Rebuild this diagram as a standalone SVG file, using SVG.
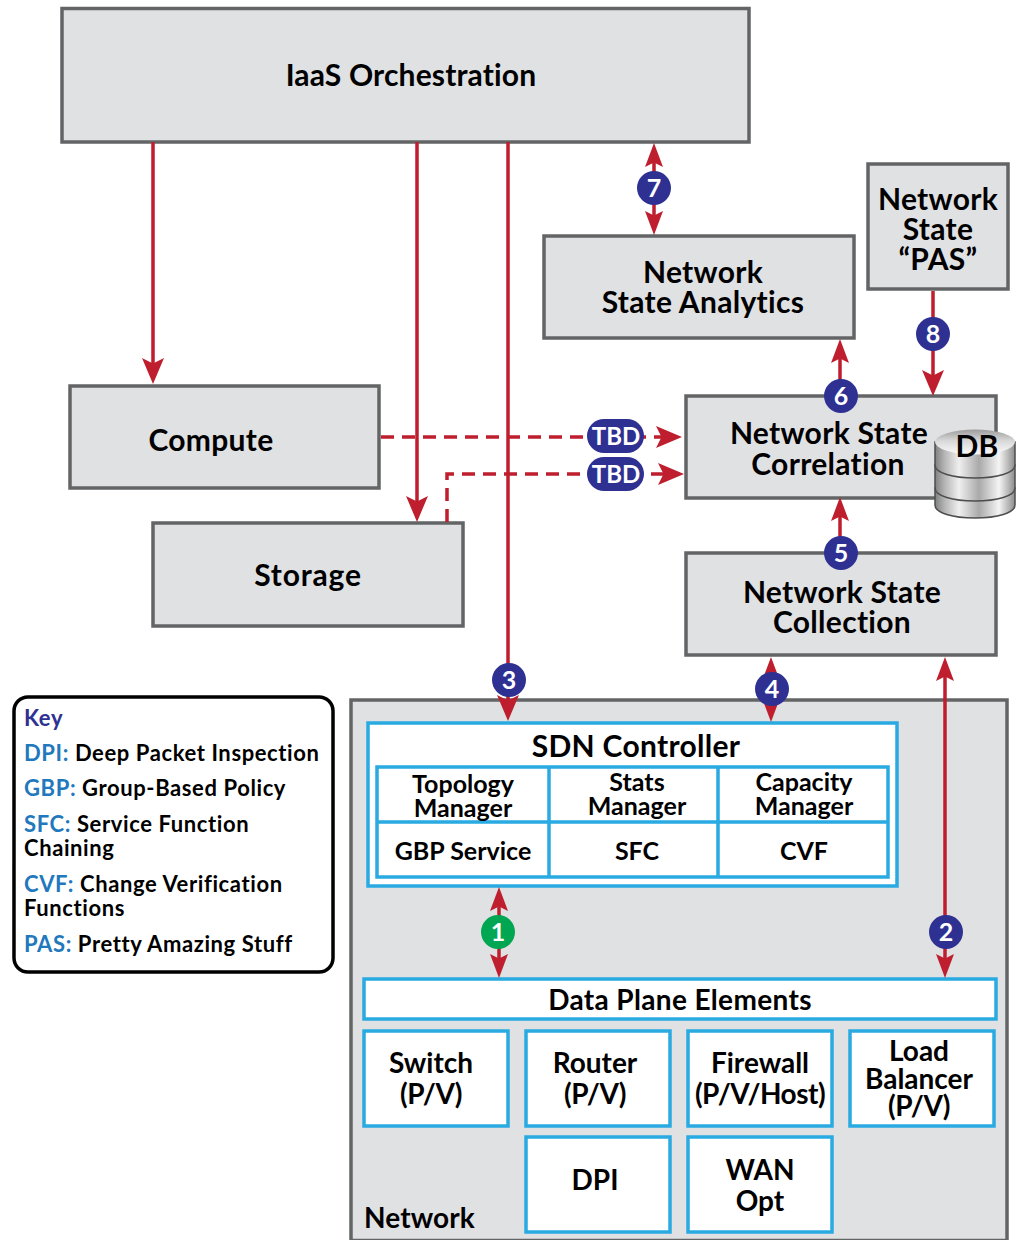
<svg xmlns="http://www.w3.org/2000/svg" width="1026" height="1240" viewBox="0 0 1026 1240">
<style>
text{font-family:"Lato","Liberation Sans",sans-serif;font-weight:700;fill:#000;text-anchor:middle}
.box{fill:#e0e1e3;stroke:#636466;stroke-width:3.500}
.blue{fill:#fff;stroke:#29abe2;stroke-width:3.5}
.inner{fill:none;stroke:#29abe2;stroke-width:3.5}
.t30{font-size:30px;letter-spacing:.3px}.t28{font-size:28px}.t25{font-size:25px}
.k{font-size:22px;text-anchor:start;letter-spacing:.6px}
.kb{fill:#2278bd}
.wire{fill:none;stroke:#be1e2d;stroke-width:3.5}
.dash{stroke-dasharray:13 8}
.head{fill:#be1e2d}
.badge{fill:#2e3192}
.num{fill:#fff;font-size:25px}
.tbd{font-size:24px}
.nar{letter-spacing:-.5px}
.band{stroke:#4d4d4d;stroke-width:1.500}
</style>
<defs>
<marker id="ah" markerUnits="userSpaceOnUse" markerWidth="26" markerHeight="24" refX="18" refY="12" orient="auto-start-reverse" viewBox="0 0 26 24"><path class="head" d="M26 12L0 1L5.500 12L0 23Z"/></marker>
<marker id="as" markerUnits="userSpaceOnUse" markerWidth="24" markerHeight="20" refX="16" refY="10" orient="auto-start-reverse" viewBox="0 0 24 20"><path class="head" d="M24 10L0 1L4.500 10L0 19Z"/></marker>
<linearGradient id="cyl" x1="0" x2="1" y1="0" y2="0"><stop offset="0" stop-color="#7f8081"/><stop offset=".12" stop-color="#b5b5b5"/><stop offset=".3" stop-color="#efefef"/><stop offset=".55" stop-color="#a9a9a9"/><stop offset=".8" stop-color="#f4f4f4"/><stop offset="1" stop-color="#8c8c8c"/></linearGradient>
<linearGradient id="cylTop" x1="0" x2="0" y1="0" y2="1"><stop offset="0" stop-color="#9c9c9c"/><stop offset=".45" stop-color="#d8d8d8"/><stop offset="1" stop-color="#fafafa"/></linearGradient>
</defs>

<g id="iaas"><rect class="box" x="62" y="8.500" width="687" height="133.500"/><text class="t30" x="411" y="86" style="letter-spacing:.15px">IaaS Orchestration</text></g>
<g id="compute"><rect class="box" x="70" y="386" width="309" height="102"/><text class="t30" x="211" y="451">Compute</text></g>
<g id="storage"><rect class="box" x="153" y="523" width="310" height="103"/><text class="t30" x="308" y="586" style="letter-spacing:.8px">Storage</text></g>
<g id="analytics"><rect class="box" x="544" y="236" width="310" height="102"/><text class="t30" x="703" y="283">Network</text><text class="t30" x="703" y="313">State Analytics</text></g>
<g id="pas"><rect class="box" x="868" y="164" width="140" height="125"/><text class="t30" x="938" y="210">Network</text><text class="t30" x="938" y="240">State</text><text class="t30" x="938" y="270">“PAS”</text></g>
<g id="correlation"><rect class="box" x="686" y="396" width="310" height="102"/><text class="t30" x="829" y="444">Network State</text><text class="t30" x="828" y="475">Correlation</text></g>
<g id="collection"><rect class="box" x="686" y="553" width="310" height="102"/><text class="t30" x="842" y="603">Network State</text><text class="t30" x="842" y="633">Collection</text></g>

<g id="db">
<path class="band" d="M935 488v17c0 8 18 13 40 13s40-5 40-13v-17z" fill="url(#cyl)"/>
<path class="band" d="M935 465v23c0 8 18 13 40 13s40-5 40-13v-23z" fill="url(#cyl)"/>
<path d="M935 442v23c0 8 18 13 40 13s40-5 40-13v-23z" fill="url(#cyl)" class="band"/>
<ellipse cx="975" cy="442" rx="40" ry="12.500" fill="url(#cylTop)"/>
<text class="t30" x="977" y="457">DB</text>
</g>

<g id="network"><rect class="box" x="351" y="700" width="656" height="540.500"/><text class="t28" x="364" y="1228" style="text-anchor:start;letter-spacing:.1px">Network</text></g>
<g id="sdn">
<rect class="blue" x="368" y="723" width="529" height="163"/>
<text class="t30" x="636" y="757">SDN Controller</text>
<rect class="inner" x="377" y="767" width="511" height="110"/>
<path class="inner" d="M549 767V877M718 767V877M377 822H888"/>
<text class="t25" x="463" y="793">Topology</text><text class="t25" x="463" y="817">Manager</text>
<text class="t25" x="637" y="791">Stats</text><text class="t25" x="637" y="815">Manager</text>
<text class="t25" x="804" y="791">Capacity</text><text class="t25" x="804" y="815">Manager</text>
<text class="t25" x="463" y="860">GBP Service</text><text class="t25" x="637" y="860">SFC</text><text class="t25" x="804" y="860">CVF</text>
</g>
<g id="dataplane"><rect class="blue" x="364" y="979" width="632" height="40"/><text class="t28" x="680" y="1010" style="letter-spacing:.35px">Data Plane Elements</text></g>
<g id="switch"><rect class="blue" x="364" y="1031" width="144" height="95"/><text class="t28" x="431" y="1073">Switch</text><text class="t28 nar" x="431" y="1104">(P/V)</text></g>
<g id="router"><rect class="blue" x="526" y="1031" width="144" height="95"/><text class="t28" x="595" y="1073">Router</text><text class="t28 nar" x="595" y="1104">(P/V)</text></g>
<g id="firewall"><rect class="blue" x="688" y="1031" width="144" height="95"/><text class="t28" x="760" y="1073">Firewall</text><text class="t28 nar" x="760" y="1104">(P/V/Host)</text></g>
<g id="lb"><rect class="blue" x="850" y="1031" width="144" height="95"/><text class="t28" x="919" y="1061">Load</text><text class="t28" x="919" y="1089">Balancer</text><text class="t28 nar" x="919" y="1116">(P/V)</text></g>
<g id="dpi"><rect class="blue" x="526" y="1137" width="144" height="95"/><text class="t28" x="595" y="1190">DPI</text></g>
<g id="wan"><rect class="blue" x="688" y="1137" width="144" height="95"/><text class="t28" x="760" y="1180">WAN</text><text class="t28" x="760" y="1211">Opt</text></g>

<g id="key">
<rect x="14" y="697" width="319" height="275" rx="14" fill="#fff" stroke="#000" stroke-width="3.500"/>
<text class="k" x="24" y="726" style="fill:#2e3192">Key</text>
<text class="k" x="24" y="761"><tspan class="kb">DPI:</tspan> Deep Packet Inspection</text>
<text class="k" x="24" y="796"><tspan class="kb">GBP:</tspan> Group-Based Policy</text>
<text class="k" x="24" y="832"><tspan class="kb">SFC:</tspan> Service Function</text>
<text class="k" x="24" y="856">Chaining</text>
<text class="k" x="24" y="892"><tspan class="kb">CVF:</tspan> Change Verification</text>
<text class="k" x="24" y="916">Functions</text>
<text class="k" x="24" y="952"><tspan class="kb">PAS:</tspan> Pretty Amazing Stuff</text>
</g>

<g id="connectors">
<path class="wire" marker-end="url(#ah)" d="M153 142V376"/>
<path class="wire" marker-end="url(#ah)" d="M417 142V514"/>
<path class="wire" marker-end="url(#ah)" d="M508 142V713"/>
<path class="wire" marker-start="url(#as)" marker-end="url(#as)" d="M654 151V227"/>
<path class="wire" marker-end="url(#ah)" d="M933 291V388"/>
<path class="wire" marker-end="url(#as)" d="M840 396V347"/>
<path class="wire" marker-end="url(#as)" d="M840 553V505"/>
<path class="wire" marker-start="url(#as)" marker-end="url(#as)" d="M771 665V714"/>
<path class="wire" marker-start="url(#as)" marker-end="url(#as)" d="M945 665V970"/>
<path class="wire" marker-start="url(#as)" marker-end="url(#as)" d="M499 895V970"/>
<path class="wire dash" marker-end="url(#ah)" d="M381 437H674"/>
<path class="wire dash" marker-end="url(#ah)" d="M447 522V474H676"/>
</g>

<g id="badges">
<circle class="badge" cx="654" cy="188" r="17"/><text class="num" x="654" y="197">7</text>
<circle class="badge" cx="933" cy="334" r="17"/><text class="num" x="933" y="343">8</text>
<circle class="badge" cx="841" cy="396" r="17"/><text class="num" x="841" y="405">6</text>
<circle class="badge" cx="841" cy="553" r="17"/><text class="num" x="841" y="562">5</text>
<circle class="badge" cx="509" cy="680" r="17"/><text class="num" x="509" y="689">3</text>
<circle class="badge" cx="772" cy="689" r="17"/><text class="num" x="772" y="698">4</text>
<circle cx="498" cy="932" r="17" fill="#00a651"/><text class="num" x="498" y="941">1</text>
<circle class="badge" cx="946" cy="932" r="17"/><text class="num" x="946" y="941">2</text>
<rect class="badge" x="587" y="419" width="57" height="34" rx="17"/><text class="num tbd" x="616" y="445">TBD</text>
<rect class="badge" x="587" y="457" width="57" height="34" rx="17"/><text class="num tbd" x="616" y="483">TBD</text>
</g>
</svg>
